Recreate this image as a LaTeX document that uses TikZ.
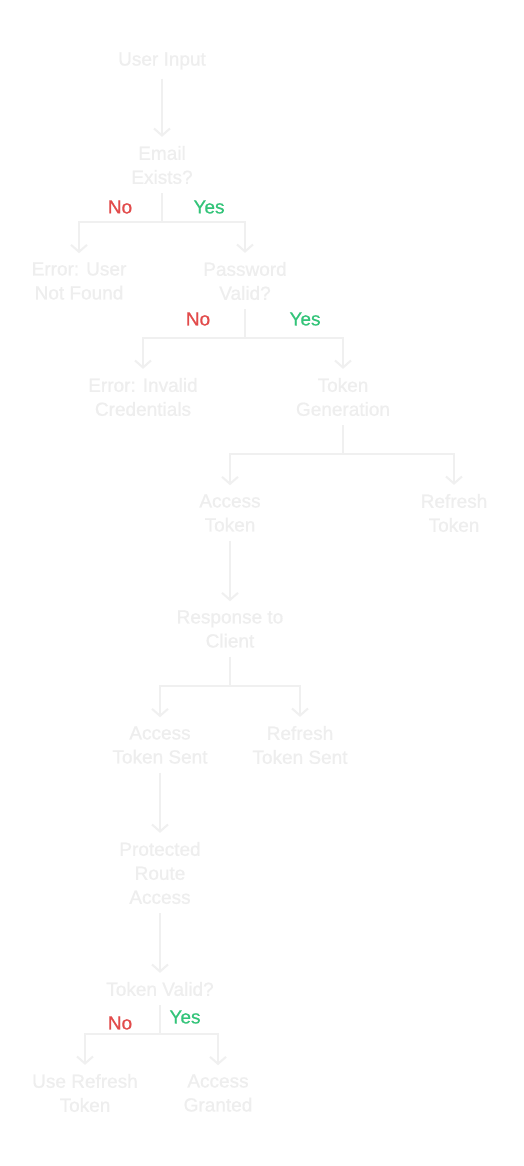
\documentclass[tikz,border=0pt]{standalone}
\usepackage{fontspec}
\setmainfont{Liberation Sans}
\newfontfamily\diagfont[FakeBold=0.6]{Liberation Sans}
\usetikzlibrary{arrows.meta}
\definecolor{txtgray}{HTML}{EEEEEE}
\definecolor{linegray}{HTML}{F0F0F0}
\definecolor{nored}{HTML}{E24B4B}
\definecolor{yesgreen}{HTML}{33C479}
\begin{document}
\begin{tikzpicture}[x=1pt,y=-1pt,
  box/.style={font=\diagfont\fontsize{19}{24}\selectfont, text=txtgray, align=center, inner xsep=2pt, inner ysep=9pt},
  conn/.style={draw=linegray, line width=2pt},
  arr/.style={conn, -{Straight Barb[length=7pt,width=16pt]}},
  lab/.style={font=\diagfont\fontsize{19}{24}\selectfont, inner sep=0pt}]
\useasboundingbox (0,0) rectangle (523,1166);
\fill[white] (0,0) rectangle (523,1166);

\node[box] (ui) at (162,61) {User Input};
\node[box] (email) at (162,165) {Email\\Exists?};
\node[box] (err1) at (79,281) {Error: User\\Not Found};
\node[box] (pw) at (245,281) {Password\\Valid?};
\node[box] (err2) at (143,397) {Error: Invalid\\Credentials};
\node[box] (tg) at (343,397) {Token\\Generation};
\node[box] (at) at (230,513) {Access\\Token};
\node[box] (rt) at (454,513) {Refresh\\Token};
\node[box] (resp) at (230,629) {Response to\\Client};
\node[box] (ats) at (160,745) {Access\\Token Sent};
\node[box] (rts) at (300,745) {Refresh\\Token Sent};
\node[box] (pra) at (160,873) {Protected\\Route\\Access};
\node[box] (tv) at (160,989) {Token Valid?};
\node[box] (urt) at (85,1093) {Use Refresh\\Token};
\node[box] (ag) at (218,1093) {Access\\Granted};

\coordinate (j1) at (162,222);
\coordinate (j2) at (245,338);
\coordinate (j3) at (343,454);
\coordinate (j4) at (230,686);
\coordinate (j5) at (160,1034);

\draw[arr] (ui) -- (email);
\draw[conn] (email) -- (j1);
\draw[arr] (j1) -| (err1);
\draw[arr] (j1) -| (pw);
\draw[conn] (pw) -- (j2);
\draw[arr] (j2) -| (err2);
\draw[arr] (j2) -| (tg);
\draw[conn] (tg) -- (j3);
\draw[arr] (j3) -| (at);
\draw[arr] (j3) -| (rt);
\draw[arr] (at) -- (resp);
\draw[conn] (resp) -- (j4);
\draw[arr] (j4) -| (ats);
\draw[arr] (j4) -| (rts);
\draw[arr] (ats) -- (pra);
\draw[arr] (pra) -- (tv);
\draw[conn] (tv) -- (j5);
\draw[arr] (j5) -| (urt);
\draw[arr] (j5) -| (ag);

\node[lab, text=nored] (no1) at (120,207) {No};
\node[lab, text=yesgreen] (yes1) at (209,207) {Yes};
\node[lab, text=nored] (no2) at (198,319) {No};
\node[lab, text=yesgreen] (yes2) at (305,319) {Yes};
\node[lab, text=nored] (no3) at (120,1023) {No};
\node[lab, text=yesgreen] (yes3) at (185,1017) {Yes};
\end{tikzpicture}
\end{document}
